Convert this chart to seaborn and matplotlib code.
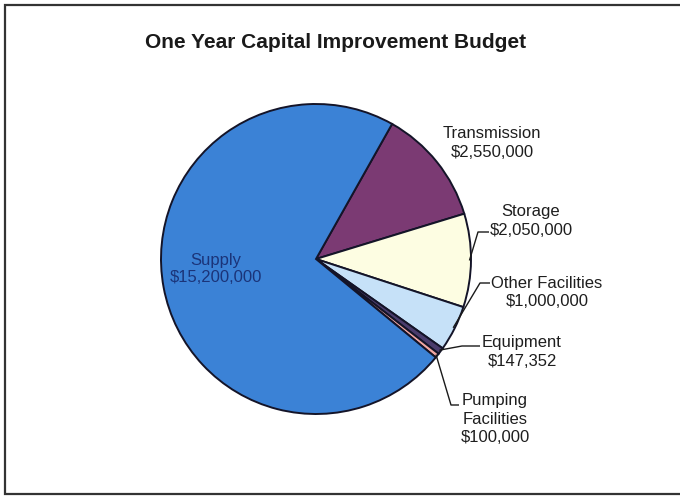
import numpy as np
import matplotlib
matplotlib.use("Agg")
import matplotlib.pyplot as plt
import seaborn as sns

# Budget categories and amounts (dollars), in clockwise drawing order
categories = ["Transmission", "Storage", "Other Facilities", "Equipment",
              "Pumping Facilities", "Supply"]
amounts = [2550000, 2050000, 1000000, 147352, 100000, 15200000]
label_lines = [["Transmission"], ["Storage"], ["Other Facilities"], ["Equipment"],
               ["Pumping", "Facilities"], ["Supply"]]
slice_colors = ["#7b3a73", "#fdfde2", "#c6e1f8", "#4a3c6c", "#f2a7a2", "#3b82d6"]

sns.set_theme(style="white")
plt.rcParams["font.family"] = ["Liberation Sans", "DejaVu Sans"]

W, H = 680, 498
fig = plt.figure(figsize=(W / 100, H / 100), dpi=100)
ax = fig.add_axes([0, 0, 1, 1])
ax.patch.set_visible(False)


def px(x, y):
    """Convert top-left pixel coordinates to axes data coordinates."""
    return x, H - y


cx, cy = px(316, 259)
radius = 155
palette = sns.color_palette(slice_colors)
wedges, _ = ax.pie(amounts, colors=palette, startangle=60.6, counterclock=False,
                   center=(cx, cy), radius=radius,
                   wedgeprops=dict(edgecolor="#141428", linewidth=1.4))
ax.set_xlim(0, W)
ax.set_ylim(0, H)
ax.set_aspect("equal")
ax.axis("off")


def money(v):
    return "${:,}".format(v)


def edge_point(w, frac=1.0):
    mid = np.deg2rad((w.theta1 + w.theta2) / 2)
    return cx + radius * frac * np.cos(mid), cy + radius * frac * np.sin(mid)


# Label placement (text centre, first line y) and leader routes
label_pos = {
    "Transmission": (492, 133),
    "Storage": (531, 211),
    "Other Facilities": (547, 283),
    "Equipment": (522, 342),
    "Pumping Facilities": (495, 400),
}
leader_elbows = {
    "Storage": [(489, 232), (478, 232)],
    "Other Facilities": [(490, 283), (480, 283)],
    "Equipment": [(480, 346), (462, 346)],
    "Pumping Facilities": [(459, 405), (451, 405)],
}

text_color = "#1e1e1e"
for w, cat, lines, val in zip(wedges, categories, label_lines, amounts):
    if cat == "Supply":
        continue
    x, y = label_pos[cat]
    for i, line in enumerate(lines + [money(val)]):
        ax.text(*px(x, y + i * 19), line, ha="center", va="center",
                fontsize=12, color=text_color)
    if cat in leader_elbows:
        pts = [px(*p) for p in leader_elbows[cat]] + [edge_point(w, 0.99)]
        ax.plot([p[0] for p in pts], [p[1] for p in pts], color="#1a1a1a",
                linewidth=1.0, solid_capstyle="butt")

# Supply label sits inside its slice
sup_idx = categories.index("Supply")
ax.text(*px(216, 261), "Supply", ha="center", va="center", fontsize=12,
        color="#1b3479")
ax.text(*px(216, 278), money(amounts[sup_idx]), ha="center", va="center",
        fontsize=12, color="#1b3479")

ax.text(*px(336, 42), "One Year Capital Improvement Budget", ha="center",
        va="center", fontsize=15, fontweight="bold", color="#1a1a1a")

# Chart frame: one open polyline (top, left and bottom rules)
frame_x = [W, 5, 5, W]
frame_y = [H - 5, H - 5, H - 494, H - 494]
ax.plot(frame_x, frame_y, color="#333333", linewidth=1.6,
        solid_joinstyle="miter")

fig.savefig("out.png", dpi=100)
